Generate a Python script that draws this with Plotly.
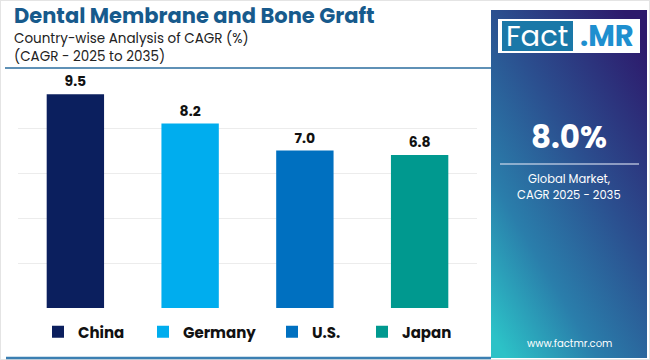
import base64
import plotly.graph_objects as go

# ---- data ----
countries = ["China", "Germany", "U.S.", "Japan"]
cagr = [9.5, 8.2, 7.0, 6.8]
colors = ["#0b1f5e", "#00adee", "#0070c0", "#00998f"]

title_text = "Dental Membrane and Bone Graft"
subtitle_lines = ["Country-wise Analysis of CAGR (%)", "(CAGR - 2025 to 2035)"]
global_value = "8.0%"
global_label = ["Global Market,", "CAGR 2025 - 2035"]

W, H = 650, 360
FONT = "Poppins, Open Sans, Arial, sans-serif"


def X(px):
    return px / W


def Y(py):
    return 1 - py / H


# legend text start positions (px)
legend_text_x = [80, 185, 314, 404]

fig = go.Figure()
for i, (c, v, col) in enumerate(zip(countries, cagr, colors)):
    lg = "legend" if i == 0 else f"legend{i + 1}"
    fig.add_trace(go.Bar(
        x=[c], y=[v], name=c, marker=dict(color=col, line=dict(width=0)),
        width=0.5, text=[f"{v:.1f}"], textposition="outside",
        textfont=dict(family=FONT, size=14, color="#111111", weight="bold"),
        cliponaxis=False, legend=lg,
    ))

# gradient panel as svg image
svg = (
    '<svg xmlns="http://www.w3.org/2000/svg" width="156" height="348" preserveAspectRatio="none">'
    '<defs><linearGradient id="g" x1="0.85" y1="0" x2="0.1" y2="1">'
    '<stop offset="0" stop-color="#2d1a6c"/>'
    '<stop offset="0.4" stop-color="#2b4f8f"/>'
    '<stop offset="0.72" stop-color="#2a7eab"/>'
    '<stop offset="1" stop-color="#2cc2c7"/>'
    '</linearGradient></defs>'
    '<rect width="156" height="348" fill="url(#g)"/></svg>'
)
src = "data:image/svg+xml;base64," + base64.b64encode(svg.encode()).decode()

shapes = [
    # outer frame
    dict(type="rect", xref="paper", yref="paper", x0=0, x1=1, y0=0, y1=1,
         line=dict(color="#e4e4e4", width=2), fillcolor="rgba(0,0,0,0)"),
    # line under subtitle
    dict(type="line", xref="paper", yref="paper", x0=X(5), x1=X(491), y0=Y(68), y1=Y(68),
         line=dict(color="#2a6c9e", width=1.5)),
    # bottom line
    dict(type="line", xref="paper", yref="paper", x0=X(6), x1=X(491), y0=Y(358), y1=Y(358),
         line=dict(color="#3b7fb2", width=2.5)),
    # logo white box
    dict(type="rect", xref="paper", yref="paper", x0=X(498), x1=X(640), y0=Y(53), y1=Y(19),
         fillcolor="white", line=dict(width=0)),
    dict(type="rect", xref="paper", yref="paper", x0=X(502), x1=X(573), y0=Y(51), y1=Y(21),
         fillcolor="#1a78a8", line=dict(width=0)),
    # separator line in panel
    dict(type="line", xref="paper", yref="paper", x0=X(500), x1=X(639), y0=Y(164), y1=Y(164),
         line=dict(color="rgba(220,225,240,0.75)", width=1.5)),
]

annotations = [
    dict(text=title_text, x=X(12), y=Y(16), xref="paper", yref="paper", xanchor="left",
         yanchor="middle", showarrow=False,
         font=dict(family=FONT, size=21, color="#175a8c", weight="bold")),
    dict(text=subtitle_lines[0], x=X(12), y=Y(38.5), xref="paper", yref="paper", xanchor="left",
         yanchor="middle", showarrow=False, font=dict(family=FONT, size=13.5, color="#222222")),
    dict(text=subtitle_lines[1], x=X(12), y=Y(56.5), xref="paper", yref="paper", xanchor="left",
         yanchor="middle", showarrow=False, font=dict(family=FONT, size=13.5, color="#222222")),
    dict(text="Fact", x=X(537), y=Y(36), xref="paper", yref="paper", xanchor="center",
         yanchor="middle", showarrow=False, font=dict(family=FONT, size=29, color="white")),
    dict(text=".MR", x=X(607), y=Y(36), xref="paper", yref="paper", xanchor="center",
         yanchor="middle", showarrow=False,
         font=dict(family=FONT, size=29, color="#1e8fcf", weight="bold")),
    dict(text=global_value, x=X(569), y=Y(137), xref="paper", yref="paper", xanchor="center",
         yanchor="middle", showarrow=False,
         font=dict(family=FONT, size=31, color="white", weight="bold")),
    dict(text=global_label[0], x=X(569), y=Y(179), xref="paper", yref="paper", xanchor="center",
         yanchor="middle", showarrow=False, font=dict(family=FONT, size=11.5, color="white")),
    dict(text=global_label[1], x=X(569), y=Y(195), xref="paper", yref="paper", xanchor="center",
         yanchor="middle", showarrow=False, font=dict(family=FONT, size=11.5, color="white")),
    dict(text="www.factmr.com", x=X(569), y=Y(343), xref="paper", yref="paper", xanchor="center",
         yanchor="middle", showarrow=False, font=dict(family=FONT, size=10, color="white")),
]

legend_common = dict(orientation="h", yanchor="middle", y=Y(332), xanchor="left",
                     font=dict(family=FONT, size=15, color="#111111", weight="bold"),
                     bgcolor="rgba(0,0,0,0)", itemwidth=30)
legends = {}
for i, tx in enumerate(legend_text_x):
    key = "legend" if i == 0 else f"legend{i + 1}"
    legends[key] = dict(legend_common, x=X(tx - 42))

fig.update_layout(
    width=W, height=H,
    margin=dict(l=0, r=0, t=0, b=0),
    paper_bgcolor="white", plot_bgcolor="white",
    barmode="overlay",
    showlegend=True,
    xaxis=dict(domain=[X(18), X(477)], showticklabels=False, showgrid=False, zeroline=False,
               ticks="", showline=False),
    yaxis=dict(domain=[Y(308), Y(83)], range=[0, 10], dtick=2, showticklabels=False,
               showgrid=True, gridcolor="#ececec", gridwidth=1, zeroline=False, ticks=""),
    shapes=shapes,
    annotations=annotations,
    images=[dict(source=src, xref="paper", yref="paper", x=X(491), y=Y(10),
                 sizex=X(647) - X(491), sizey=(358 - 10) / H, sizing="stretch",
                 xanchor="left", yanchor="top", layer="below")],
    **legends,
)

fig.write_html("out.html", config={"displayModeBar": False},
               post_script="document.body.style.margin='0';document.body.style.padding='0';")
